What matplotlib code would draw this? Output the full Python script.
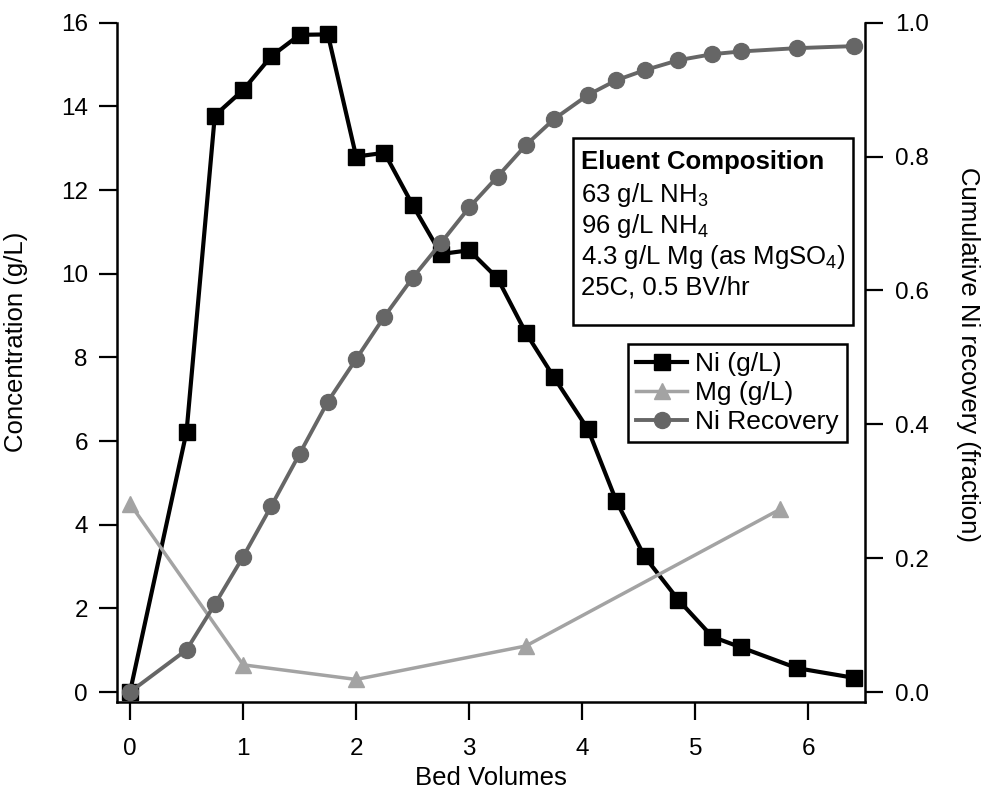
import matplotlib
matplotlib.use("Agg")
import matplotlib.pyplot as plt
from matplotlib.patches import Rectangle

plt.rcParams['font.family'] = ['Liberation Sans', 'DejaVu Sans']
plt.rcParams['mathtext.fontset'] = 'custom'
plt.rcParams['mathtext.rm'] = 'Liberation Sans'
plt.rcParams['mathtext.it'] = 'Liberation Sans:italic'
plt.rcParams['mathtext.bf'] = 'Liberation Sans:bold'

# data
bed_volumes = [0, 0.5, 0.75, 1.0, 1.25, 1.5, 1.75, 2.0, 2.25, 2.5, 2.75, 3.0, 3.25,
               3.5, 3.75, 4.05, 4.3, 4.55, 4.85, 5.15, 5.4, 5.9, 6.4]
ni_conc = [0, 6.22, 13.78, 14.39, 15.2, 15.71, 15.72, 12.8, 12.89, 11.64, 10.47,
           10.56, 9.89, 8.59, 7.52, 6.28, 4.57, 3.24, 2.2, 1.32, 1.07, 0.57, 0.34]
ni_recovery = [0, 0.063, 0.131, 0.202, 0.278, 0.356, 0.434, 0.4975, 0.561, 0.619,
               0.671, 0.724, 0.77, 0.817, 0.856, 0.892, 0.914, 0.929, 0.944, 0.953,
               0.957, 0.962, 0.965]
mg_bv = [0, 1, 2, 3.5, 5.75]
mg_conc = [4.5, 0.65, 0.3, 1.1, 4.37]

left_ticks = [0, 2, 4, 6, 8, 10, 12, 14, 16]
right_ticks = [0.0, 0.2, 0.4, 0.6, 0.8, 1.0]
x_ticks = [0, 1, 2, 3, 4, 5, 6]

eluent_lines = [
    "63 g/L NH$_\\mathregular{3}$",
    "96 g/L NH$_\\mathregular{4}$",
    "4.3 g/L Mg (as MgSO$_\\mathregular{4}$)",
    "25C, 0.5 BV/hr",
]

W, H = 989, 798
fig = plt.figure(figsize=(W / 100, H / 100), dpi=100)


def fx(px):
    return px / W


def fy(py):
    return 1 - py / H


ax = fig.add_axes([fx(117), fy(702), fx(865) - fx(117), fy(22.7) - fy(702)])
ax2 = ax.twinx()

ni_line, = ax.plot(bed_volumes, ni_conc, color='black', lw=3, marker='s',
                   ms=12, label='Ni (g/L)')
mg_line, = ax.plot(mg_bv, mg_conc, color='#a3a3a3', lw=2.5, marker='^',
                   ms=12, label='Mg (g/L)')
rec_line, = ax2.plot(bed_volumes, ni_recovery, color='#666666', lw=2.8, marker='o',
                     ms=11.5, label='Ni Recovery')

ax.set_xlim(-0.115, 6.5)
ax.set_ylim(-0.239, 16.0)
ax2.set_ylim(-0.0149, 1.0)

ax.set_xticks(x_ticks)
ax.set_yticks(left_ticks)
ax2.set_yticks(right_ticks)
ax2.set_yticklabels([f"{t:.1f}" for t in right_ticks])

for a in (ax, ax2):
    a.spines['top'].set_visible(False)
    for s in a.spines.values():
        s.set_linewidth(1.8)
ax.spines['right'].set_visible(False)
ax2.spines['left'].set_visible(False)
ax2.spines['bottom'].set_visible(False)

ax.tick_params(axis='x', direction='out', length=13, width=1.6, labelsize=17.5, pad=13)
ax.tick_params(axis='y', direction='out', length=13, width=1.6, labelsize=17.5, pad=8)
ax2.tick_params(axis='y', direction='out', length=13, width=1.6, labelsize=17.5, pad=8.5)

ax.set_xlabel("Bed Volumes", fontsize=18.5)
ax.xaxis.set_label_coords(0.5, -0.094)
ax.set_ylabel("Concentration (g/L)", fontsize=18.5)
ax.yaxis.set_label_coords(-0.119, 0.53)
ax2.set_ylabel("Cumulative Ni recovery (fraction)", fontsize=18.5, rotation=270,
               va='bottom')
ax2.yaxis.set_label_coords(1.122, 0.511)

# eluent composition box
box = Rectangle((fx(573), fy(325)), fx(853) - fx(573), fy(138) - fy(325),
                transform=fig.transFigure, fill=True, facecolor='white',
                edgecolor='black', lw=1.8, zorder=5)
fig.add_artist(box)
fig.text(fx(581), fy(162), "Eluent Composition", fontsize=18.5, fontweight='bold',
         va='center', ha='left', zorder=6)
for i, line in enumerate(eluent_lines):
    fig.text(fx(581), fy(195 + 31 * i), line, fontsize=18.5, va='center', ha='left',
             zorder=6)

leg = ax2.legend(handles=[ni_line, mg_line, rec_line], loc='upper left',
                 bbox_to_anchor=(fx(628), fy(344)), bbox_transform=fig.transFigure,
                 fontsize=19, frameon=True, fancybox=False, framealpha=1,
                 edgecolor='black', handlelength=1.95, handletextpad=0.3,
                 labelspacing=0.2, borderpad=0.3, borderaxespad=0)
leg.get_frame().set_linewidth(1.8)

fig.savefig("out.png", dpi=100)
